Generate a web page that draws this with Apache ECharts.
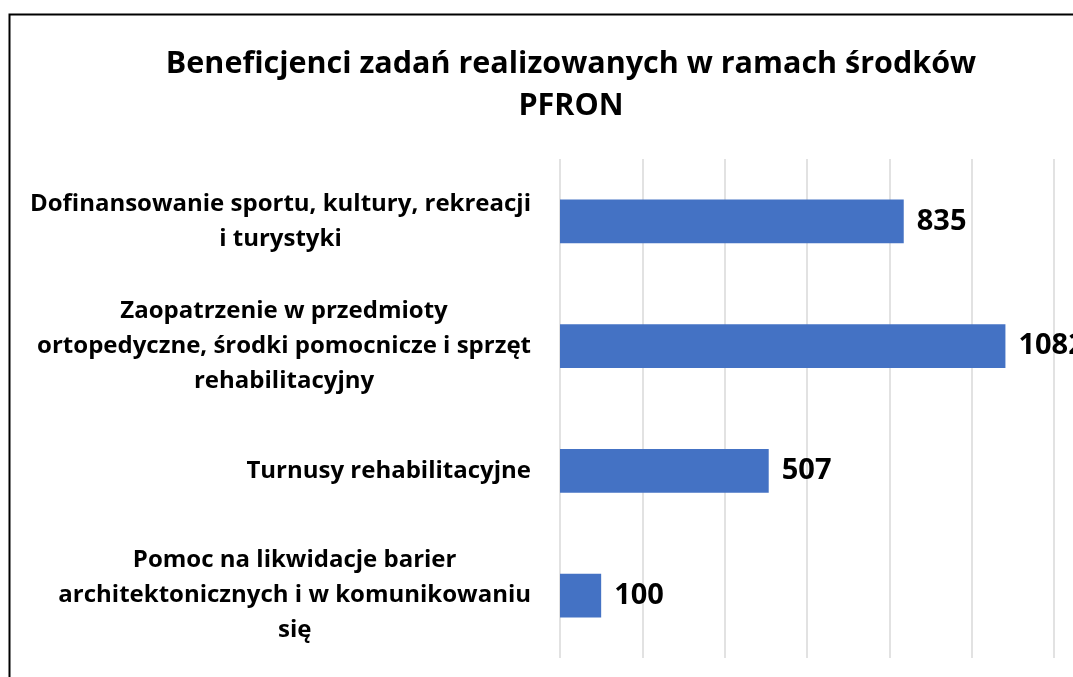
<!DOCTYPE html>
<html>
<head>
<meta charset="utf-8">
<script src="https://cdn.jsdelivr.net/npm/echarts@6.0.0/dist/echarts.min.js"></script>
<style>
  html, body { margin: 0; padding: 0; background: #fff; }
  #chart { width: 1073px; height: 677px; }
</style>
</head>
<body>
<div id="chart"></div>
<script>
  // data
  const categories = [
    "Dofinansowanie sportu, kultury, rekreacji\ni turystyki",
    "Zaopatrzenie w przedmioty\nortopedyczne, środki pomocnicze i sprzęt\nrehabilitacyjny",
    "Turnusy rehabilitacyjne",
    "Pomoc na likwidacje barier\narchitektonicznych i w komunikowaniu\nsię"
  ];
  const beneficiaries = [835, 1082, 507, 100];
  const axisMax = 1200;
  const axisStep = 200;
  const titleText = "Beneficjenci zadań realizowanych w ramach środków\nPFRON";

  const FONT = "'Open Sans', 'Noto Sans', sans-serif";

  const chart = echarts.init(document.getElementById("chart"));

  chart.setOption({
    animation: false,
    backgroundColor: "#fff",
    title: {
      text: titleText,
      left: 566,
      top: 38,
      textAlign: "center",
      textStyle: {
        fontFamily: FONT,
        fontSize: 30.5,
        fontWeight: "bold",
        color: "#000",
        lineHeight: 42
      }
    },
    // outer frame of the chart area (runs past the right/bottom edge)
    graphic: [{
      type: "rect",
      shape: { x: 9.5, y: 14.5, width: 1200, height: 800 },
      style: { fill: null, stroke: "#000", lineWidth: 2 },
      silent: true
    }],
    grid: {
      left: 560,
      right: 19,
      top: 159,
      bottom: 19,
      containLabel: false,
      outerBoundsMode: "none"
    },
    xAxis: {
      type: "value",
      min: 0,
      max: axisMax,
      interval: axisStep,
      axisLine: { show: false },
      axisTick: { show: false },
      axisLabel: { show: false },
      splitLine: { lineStyle: { color: "#d9d9d9", width: 1.5 } }
    },
    yAxis: {
      type: "category",
      inverse: true,
      data: categories,
      axisLine: { show: false },
      axisTick: { show: false },
      axisLabel: {
        margin: 29,
        align: "right",
        // each line centred inside the right-aligned block
        formatter: function (v) {
          return v.split("\n").map(function (s) { return "{c|" + s + "}"; }).join("\n");
        },
        rich: {
          c: {
            align: "center",
            fontFamily: FONT,
            fontSize: 24,
            fontWeight: "bold",
            color: "#000",
            lineHeight: 35
          }
        }
      }
    },
    series: [{
      type: "bar",
      data: beneficiaries,
      barWidth: "35%",
      itemStyle: { color: "#4472c4" },
      label: {
        show: true,
        position: "right",
        distance: 13,
        fontFamily: FONT,
        fontSize: 29,
        fontWeight: "bold",
        color: "#000"
      }
    }]
  });
</script>
</body>
</html>
